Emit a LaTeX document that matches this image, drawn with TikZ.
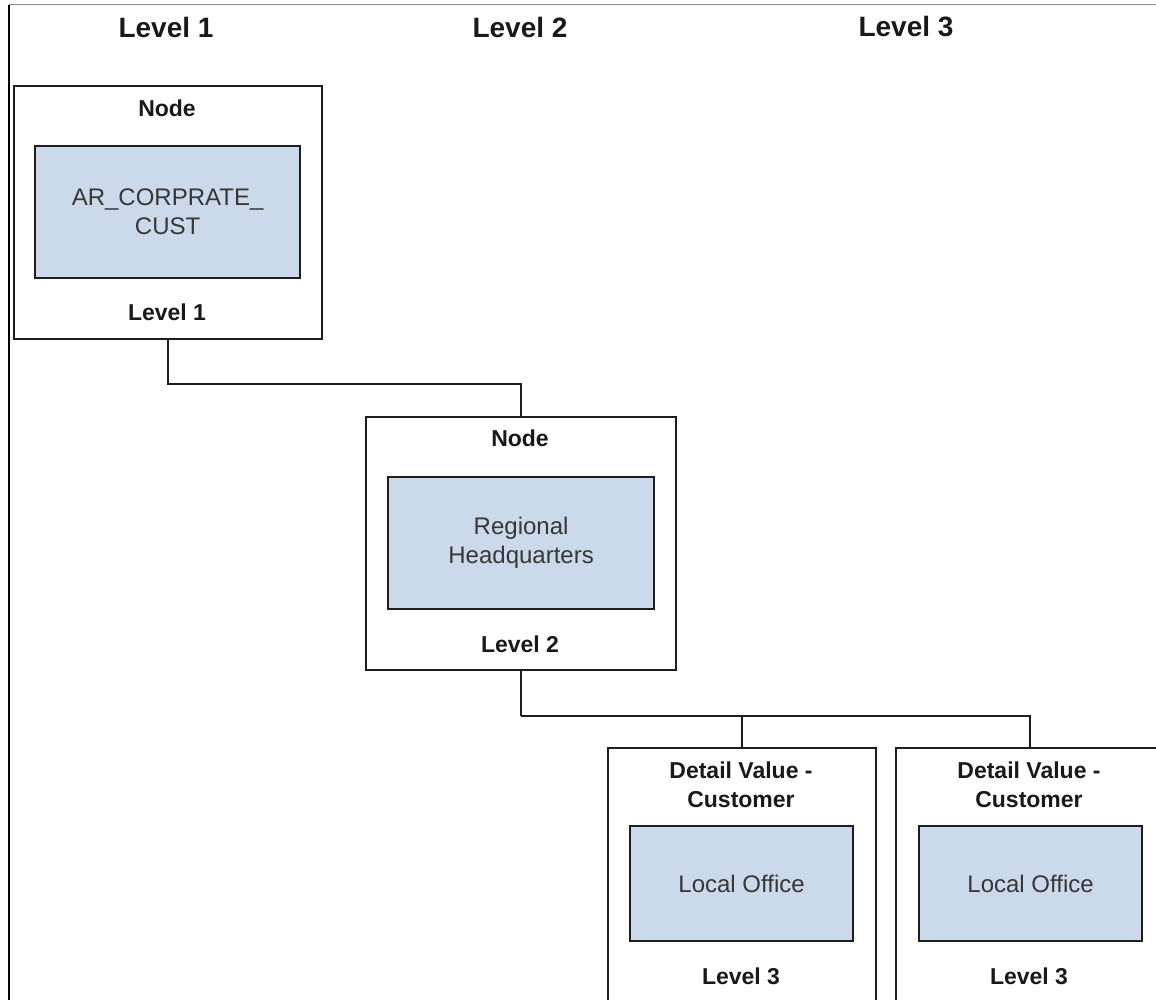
\documentclass[tikz,border=0pt]{standalone}
\usepackage{fontspec}
\setmainfont{Liberation Sans}
\definecolor{innerfill}{RGB}{204,217,234}
\definecolor{boxline}{RGB}{30,30,30}
\definecolor{innertext}{RGB}{55,55,55}
\begin{document}
\begin{tikzpicture}[x=1pt,y=-1pt,
  outerbox/.style={draw=boxline, line width=2.2pt, fill=white, anchor=north west, inner sep=0pt},
  innerbox/.style={draw=boxline, line width=2.2pt, fill=innerfill, anchor=north west, inner sep=0pt,
    align=center, text=innertext, font=\fontsize{24}{29}\selectfont},
  lbl/.style={font=\fontsize{23}{29}\selectfont\bfseries, text=black!90, align=center, inner sep=0pt},
  hdr/.style={font=\fontsize{28}{32}\selectfont\bfseries, text=black!90, inner sep=0pt},
  conn/.style={draw=boxline, line width=2.2pt}
]
\useasboundingbox (0,0) rectangle (1156,1000);
\clip (0,0) rectangle (1156,1000);
% frame lines
\coordinate (fl) at (9,5);
\coordinate (fr) at (1156,5);
\coordinate (fb) at (9,1000);
\draw[black!45, line width=1pt] (fl) -- (fr);
\draw[black, line width=1.5pt] (fl) -- (fb);
% headers
\node[hdr] (h1) at (166,27) {Level 1};
\node[hdr] (h2) at (520,27) {Level 2};
\node[hdr] (h3) at (906,27) {Level 3};
% box 1
\node[outerbox, minimum width=308pt, minimum height=253pt] (b1) at (13,85) {};
\node[innerbox, minimum width=265pt, minimum height=132pt] (i1) at (34,145) {AR\_CORPRATE\_\\CUST};
\node[lbl] (n1) at (167,108) {Node};
\node[lbl] (l1) at (167,312) {Level 1};
% box 2
\node[outerbox, minimum width=310pt, minimum height=253pt] (b2) at (365,416) {};
\node[innerbox, minimum width=266pt, minimum height=132pt] (i2) at (387,476) {Regional\\Headquarters};
\node[lbl] (n2) at (520,438) {Node};
\node[lbl] (l2) at (520,644) {Level 2};
% box 3
\node[outerbox, minimum width=268pt, minimum height=270pt] (b3) at (607,747) {};
\node[innerbox, minimum width=223pt, minimum height=115pt] (i3) at (629,825) {Local Office};
\node[lbl] (n3) at (741,785) {Detail Value -\\Customer};
\node[lbl] (l3) at (741,976) {Level 3};
% box 4
\node[outerbox, minimum width=268pt, minimum height=270pt] (b4) at (895,747) {};
\node[innerbox, minimum width=223pt, minimum height=115pt] (i4) at (918,825) {Local Office};
\node[lbl] (n4) at (1029,785) {Detail Value -\\Customer};
\node[lbl] (l4) at (1029,976) {Level 3};
% connectors
\draw[conn] (b1.south) -- ++(0,44) -| (b2.north);
\draw[conn] (b2.south) -- ++(0,45) coordinate (j2);
\draw[conn] (j2) -| (b3.north);
\draw[conn] (j2) -| (b4.north);
\end{tikzpicture}
\end{document}
